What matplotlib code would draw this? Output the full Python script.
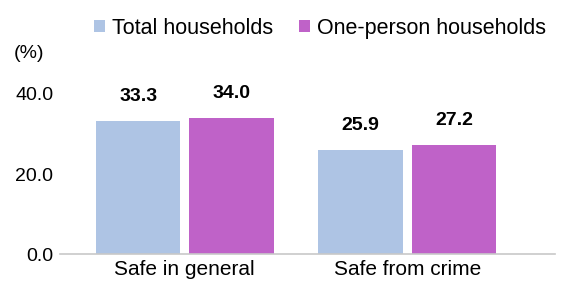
import numpy as np
import matplotlib.pyplot as plt

plt.rcParams['font.family'] = ['Liberation Sans', 'DejaVu Sans']

categories = ["Safe in general", "Safe from crime"]
series_names = ["Total households", "One-person households"]
total = [33.3, 25.9]
one_person = [34.0, 27.2]
colors = ["#aec4e4", "#bf62c8"]

fig = plt.figure(figsize=(5.63, 2.89), dpi=100)
ax = fig.add_axes([0.107, 0.121, 0.879, 0.623])

x = np.arange(len(categories))
w = 0.38
off = 0.21
b1 = ax.bar(x - off, total, w, color=colors[0], label=series_names[0])
b2 = ax.bar(x + off, one_person, w, color=colors[1], label=series_names[1])

for bars, vals in [(b1, total), (b2, one_person)]:
    for b, v in zip(bars, vals):
        ax.text(b.get_x() + b.get_width() / 2, v + 4.0, "%.1f" % v,
                ha='center', va='bottom', fontsize=14, fontweight='bold')

ax.set_xlim(-0.56, 1.665)
ax.set_ylim(0, 45)
ax.set_yticks([0, 20, 40])
ax.set_yticklabels(["0.0", "20.0", "40.0"], fontsize=14)
ax.set_xticks(x)
ax.set_xticklabels(categories, fontsize=15)
ax.tick_params(axis='y', length=0, pad=5)
ax.tick_params(axis='x', length=0, pad=4)
for s in ['top', 'right', 'left']:
    ax.spines[s].set_visible(False)
ax.spines['bottom'].set_color('#c8c8c8')
ax.spines['bottom'].set_linewidth(1.2)

fig.text(0.025, 0.80, "(%)", fontsize=14)
fig.legend(loc='upper right', bbox_to_anchor=(1.005, 1.005), ncol=2, frameon=False,
           fontsize=15.5, handlelength=0.5, handleheight=0.5, handletextpad=0.35,
           columnspacing=1.2)

fig.savefig("out.png", dpi=100)
